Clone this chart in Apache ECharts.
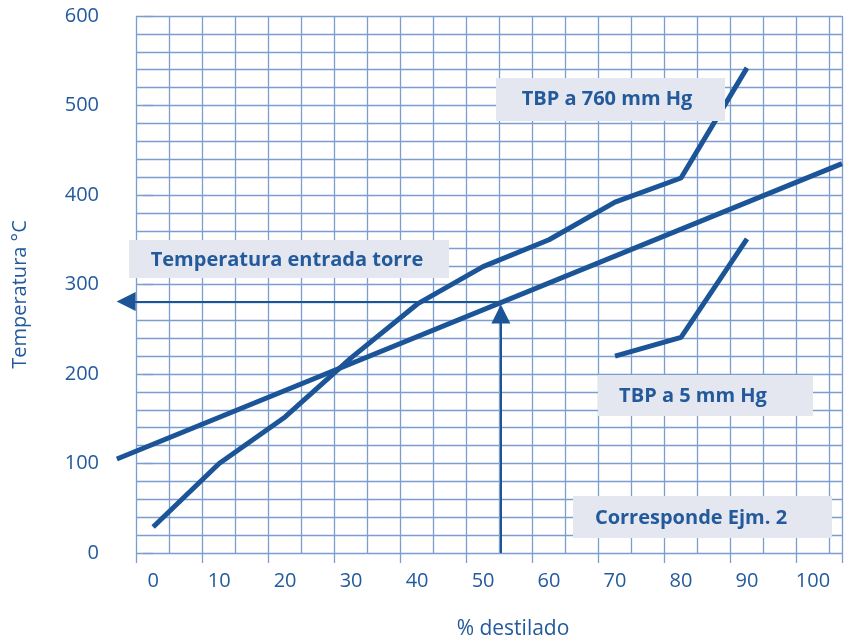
<!DOCTYPE html>
<html>
<head>
<meta charset="utf-8">
<script src="https://cdn.jsdelivr.net/npm/echarts@6/dist/echarts.min.js"></script>
<style>
html,body{margin:0;padding:0;background:#fff;}
#chart{width:853px;height:639px;}
</style>
</head>
<body>
<div id="chart"></div>
<script>
// ---- data ----
const pctTBP760 = [0, 10, 20, 30, 40, 50, 60, 70, 80, 90];
const tempTBP760 = [29, 100, 152, 218, 278, 320, 350, 392, 419, 542];
const pctTBP5 = [70, 80, 90];
const tempTBP5 = [220, 241, 351];
const pctLine = [-5.5, 104.4];
const tempLine = [105, 435];
const feedPct = 52.7;
const feedTemp = 281;
const arrowLeftPct = -4.1;
const arrowUpTemp = 267;
const xTickLabels = [0, 10, 20, 30, 40, 50, 60, 70, 80, 90, 100];
const yTickLabels = [0, 100, 200, 300, 400, 500, 600];
const boxLabels = ['TBP a 760 mm Hg', 'Temperatura entrada torre', 'TBP a 5 mm Hg', 'Corresponde Ejm. 2'];
const xTitle = '% destilado';
const yTitle = 'Temperatura °C';

const zip = (a, b) => a.map((v, i) => [v, b[i]]);

const curveColor = '#1b5597';
const textColor = '#235a9c';
const gridColor = '#7c9dd0';
const boxColor = '#e4e6f0';
const font = '"Open Sans", "Noto Sans", sans-serif';

const chart = echarts.init(document.getElementById('chart'), null, {renderer: 'canvas'});

function box(x, y, w, h, text, cx, cy) {
  return {
    type: 'group', z: 100,
    children: [
      {type: 'rect', z: 100, shape: {x: x, y: y, width: w, height: h}, style: {fill: boxColor}},
      {type: 'text', z: 101, x: cx, y: cy, style: {text: text, font: 'bold 20px ' + font, fill: textColor, align: 'center', verticalAlign: 'middle'}}
    ]
  };
}

chart.setOption({
  animation: false,
  backgroundColor: '#ffffff',
  grid: {left: 136, top: 16, right: 11, bottom: 86, containLabel: false, outerBoundsMode: 'none'},
  xAxis: [
    {
      type: 'value', min: -2.6, max: 104.4,
      position: 'bottom',
      name: xTitle, nameLocation: 'middle', nameGap: 66,
      nameTextStyle: {color: textColor, fontSize: 21, fontFamily: font, padding: [0, 0, 0, 48]},
      axisLine: {show: false}, axisTick: {show: false}, splitLine: {show: false},
      axisLabel: {customValues: xTickLabels, color: textColor, fontSize: 20, fontFamily: font, margin: 18}
    },
    {
      type: 'value', min: 0, max: 107, interval: 10,
      position: 'bottom',
      axisLine: {show: false},
      axisTick: {show: true, length: 10, lineStyle: {color: gridColor, width: 1.3}},
      axisLabel: {show: false},
      splitLine: {show: true, lineStyle: {color: gridColor, width: 1.3}},
      minorTick: {show: false, splitNumber: 2},
      minorSplitLine: {show: true, lineStyle: {color: gridColor, width: 1.3}}
    }
  ],
  yAxis: {
    type: 'value', min: 0, max: 600, interval: 100,
    name: yTitle, nameLocation: 'middle', nameGap: 106, nameRotate: 90,
    nameTextStyle: {color: textColor, fontSize: 20, fontFamily: font, padding: [0, 20, 0, 0]},
    axisLine: {show: false},
    axisTick: {show: true, length: 10, lineStyle: {color: gridColor, width: 1.3}},
    axisLabel: {color: textColor, fontSize: 20, fontFamily: font, margin: 37, padding: [8, 0, 0, 0]},
    splitLine: {show: true, lineStyle: {color: gridColor, width: 1.3}},
    minorTick: {show: false, splitNumber: 5},
    minorSplitLine: {show: true, lineStyle: {color: gridColor, width: 1.3}}
  },
  series: [
    {
      type: 'line', name: 'TBP a 760 mm Hg', xAxisIndex: 0, data: zip(pctTBP760, tempTBP760),
      showSymbol: false, clip: false, lineStyle: {color: curveColor, width: 5}, z: 10
    },
    {
      type: 'line', name: 'TBP a 5 mm Hg', xAxisIndex: 0, data: zip(pctTBP5, tempTBP5),
      showSymbol: false, clip: false, lineStyle: {color: curveColor, width: 5}, z: 10
    },
    {
      type: 'lines', name: 'Recta', coordinateSystem: 'cartesian2d', xAxisIndex: 0, z: 10,
      polyline: true, clip: false, symbol: 'none',
      lineStyle: {color: curveColor, width: 5, opacity: 1},
      data: [{coords: zip(pctLine, tempLine)}]
    },
    {
      type: 'lines', coordinateSystem: 'cartesian2d', xAxisIndex: 0, z: 9,
      symbol: ['none', 'triangle'], symbolSize: [20, 19], clip: false,
      lineStyle: {color: curveColor, width: 2, opacity: 1},
      data: [
        {coords: [[feedPct, 0], [feedPct, arrowUpTemp]]},
        {coords: [[feedPct, feedTemp], [arrowLeftPct, feedTemp]]}
      ]
    }
  ],
  graphic: [
    box(496, 78, 229, 43, boxLabels[0], 607, 99),
    box(129, 240, 320, 38, boxLabels[1], 287, 260),
    box(598, 375, 215, 41, boxLabels[2], 693, 396),
    box(573, 496, 259, 42, boxLabels[3], 691, 518)
  ]
});
</script>
</body>
</html>
